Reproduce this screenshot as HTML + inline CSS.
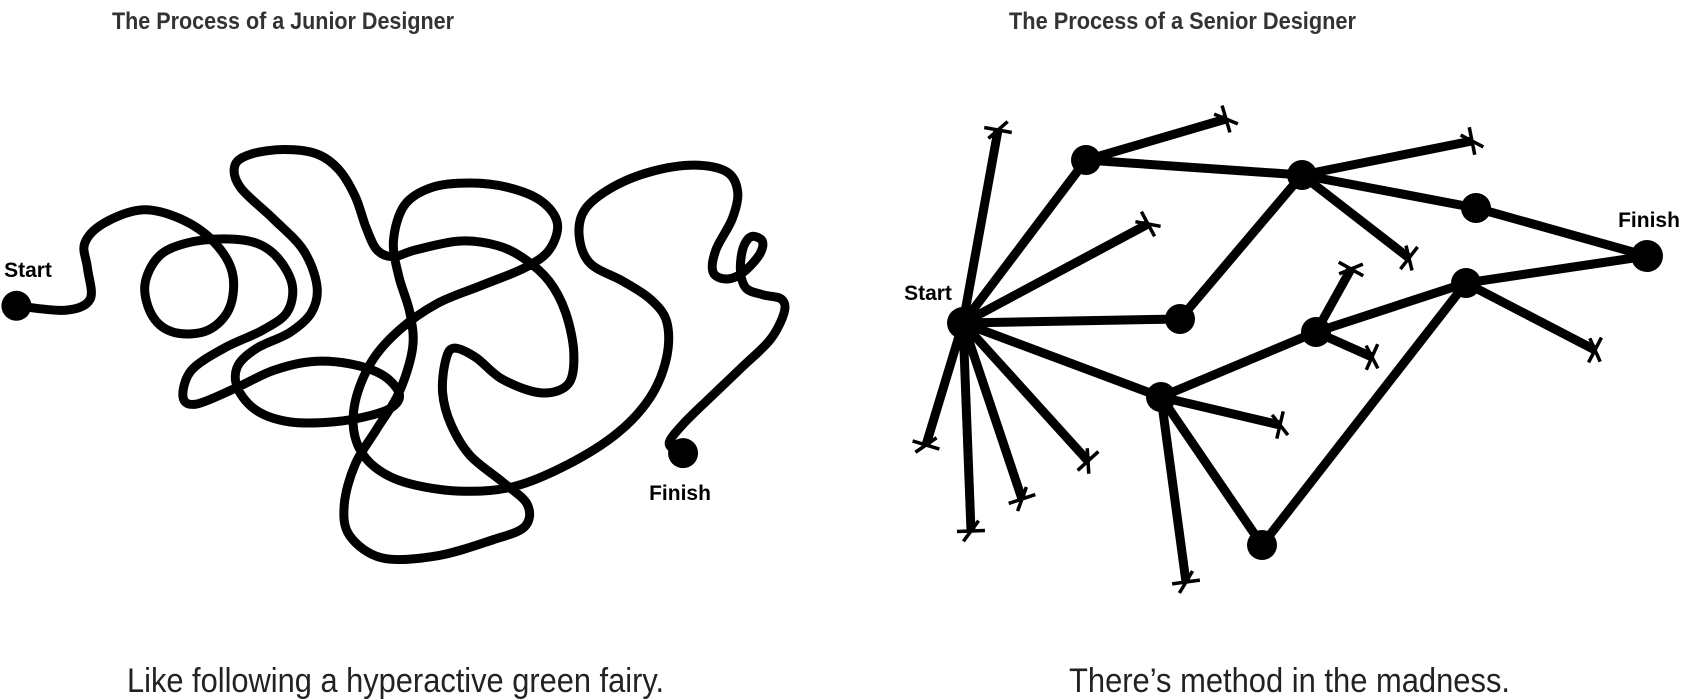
<!DOCTYPE html>
<html><head><meta charset="utf-8"><style>
html,body{margin:0;padding:0;background:#fff;width:1692px;height:700px;overflow:hidden}
svg{display:block}
</style></head><body>
<svg id="c" width="1692" height="700">
<text x="112" y="29" font-family="Liberation Sans, sans-serif" font-weight="bold" font-size="24" fill="#333" textLength="342" lengthAdjust="spacingAndGlyphs">The Process of a Junior Designer</text>
<text x="1009" y="29" font-family="Liberation Sans, sans-serif" font-weight="bold" font-size="24" fill="#333" textLength="347" lengthAdjust="spacingAndGlyphs">The Process of a Senior Designer</text>
<text x="127" y="692" font-family="Liberation Sans, sans-serif" font-size="34" fill="#222" textLength="537" lengthAdjust="spacingAndGlyphs">Like following a hyperactive green fairy.</text>
<text x="1069" y="692" font-family="Liberation Sans, sans-serif" font-size="34" fill="#222" textLength="441" lengthAdjust="spacingAndGlyphs">There’s method in the madness.</text>
<g id="jr"></g><g id="sr"></g>
</svg>
<script>
const junPts=[30,685,120,695,165,670,160,600,155,545,190,500,260,470,330,490,390,540,425,610,420,690,380,740,320,745,280,710,265,640,290,575,340,545,410,535,470,545,510,580,535,640,525,700,480,740,410,780,350,830,335,890,360,905,430,870,500,830,570,810,640,815,700,840,730,880,720,910,680,930,610,945,530,945,470,920,435,870,435,820,470,780,530,745,570,700,580,640,555,560,500,490,440,420,430,370,460,345,520,335,580,345,620,380,650,440,670,510,690,560,720,575,760,560,840,540,910,550,960,580,1005,630,1035,700,1050,790,1040,860,990,880,920,850,870,800,830,780,815,810,810,880,825,950,860,1020,920,1080,965,1130,960,1180,900,1210,800,1245,700,1250,640,1200,630,1130,650,1040,690,960,730,880,755,780,750,700,730,620,720,540,740,460,790,420,860,410,930,420,990,450,1020,500,1005,560,960,600,880,640,800,680,730,740,680,810,650,900,650,980,680,1040,740,1080,840,1100,940,1090,1040,1040,1130,970,1190,890,1220,800,1220,720,1190,670,1140,630,1080,590,1060,530,1070,470,1120,420,1190,385,1270,370,1330,385,1350,430,1340,490,1310,560,1305,610,1330,625,1360,610,1390,570,1395,540,1375,530,1360,555,1355,605,1365,645,1395,660,1430,670,1435,700,1410,760,1360,820,1300,890,1250,950,1225,990,1235,1010];
const nodeNames=["start","a","b","c","finish","d","e","f","g","h"];
const nodeX=[963,1086,1302,1476,1647,1180,1161,1316,1466,1262];
const nodeY=[323,160,175,208,256,319,397,332,283,545];
const edges=[[0,1],[1,2],[2,3],[3,4],[0,5],[5,2],[0,6],[6,7],[7,8],[8,4],[6,9],[9,8]];
const deadFrom=[0,0,0,0,0,0,1,2,2,7,7,6,6,8];
const deadX=[998,1148,926,971,1022,1088,1226,1472,1409,1351,1372,1280,1186,1595];
const deadY=[130,224,445,531,499,461,119,141,258,269,357,425,582,350];
const NS="http://www.w3.org/2000/svg";
const sx=v=>v/1.83, sy=v=>v/2.24;
const P=[];for(let i=0;i<junPts.length;i+=2)P.push([sx(junPts[i]),sy(junPts[i+1])]);
let d="M"+P[0][0]+","+P[0][1];
for(let i=0;i<P.length-1;i++){const p0=P[Math.max(0,i-1)],p1=P[i],p2=P[i+1],p3=P[Math.min(P.length-1,i+2)];
d+=` C${p1[0]+(p2[0]-p0[0])/6},${p1[1]+(p2[1]-p0[1])/6} ${p2[0]-(p3[0]-p1[0])/6},${p2[1]-(p3[1]-p1[1])/6} ${p2[0]},${p2[1]}`;}
const jr=document.getElementById('jr');
const path=document.createElementNS(NS,'path');
path.setAttribute('d',d);path.setAttribute('fill','none');path.setAttribute('stroke','#000');path.setAttribute('stroke-width','9');path.setAttribute('stroke-linejoin','round');


jr.appendChild(path);
function circ(g,x,y,r,name){const c=document.createElementNS(NS,'circle');c.setAttribute('cx',x);c.setAttribute('cy',y);c.setAttribute('r',r);c.setAttribute('fill','#000');


g.appendChild(c);}
function txt(g,x,y,s,name){const t=document.createElementNS(NS,'text');t.setAttribute('x',x);t.setAttribute('y',y);t.setAttribute('text-anchor','middle');t.setAttribute('font-family','Liberation Sans, sans-serif');t.setAttribute('font-weight','bold');t.setAttribute('font-size','21');t.textContent=s;


g.appendChild(t);}
circ(jr,sx(30),sy(685),15,'junior-start-dot');
circ(jr,sx(1250),sy(1015),15,'junior-finish-dot');
txt(jr,28,277,'Start','junior-start-label');
txt(jr,680,500,'Finish','junior-finish-label');
const sr=document.getElementById('sr');
function line(x1,y1,x2,y2,w,name){const l=document.createElementNS(NS,'line');l.setAttribute('x1',x1);l.setAttribute('y1',y1);l.setAttribute('x2',x2);l.setAttribute('y2',y2);l.setAttribute('stroke','#000');l.setAttribute('stroke-width',w);


sr.appendChild(l);return l;}
edges.forEach(e=>line(nodeX[e[0]],nodeY[e[0]],nodeX[e[1]],nodeY[e[1]],9,'edge-'+nodeNames[e[0]]+'-'+nodeNames[e[1]]));
deadFrom.forEach((f,i)=>{const x0=nodeX[f],y0=nodeY[f],x1=deadX[i],y1=deadY[i];
line(x0,y0,x1,y1,9,'dead-end-branch');
const dx=x1-x0,dy=y1-y0,L=Math.hypot(dx,dy),ux=dx/L,uy=dy/L,px=-uy,py=ux;
line(x1-px*14,y1-py*14,x1+px*14,y1+py*14,3.5,'dead-end-cross');
line(x1-ux*10-px*8,y1-uy*10-py*8,x1+ux*10+px*8,y1+uy*10+py*8,3.5,'dead-end-cross');});
nodeX.forEach((x,i)=>circ(sr,x,nodeY[i],i==0||i==4?16:15,'node-'+nodeNames[i]));
txt(sr,928,300,'Start','senior-start-label');
txt(sr,1649,227,'Finish','senior-finish-label');
</script>
</body></html>
